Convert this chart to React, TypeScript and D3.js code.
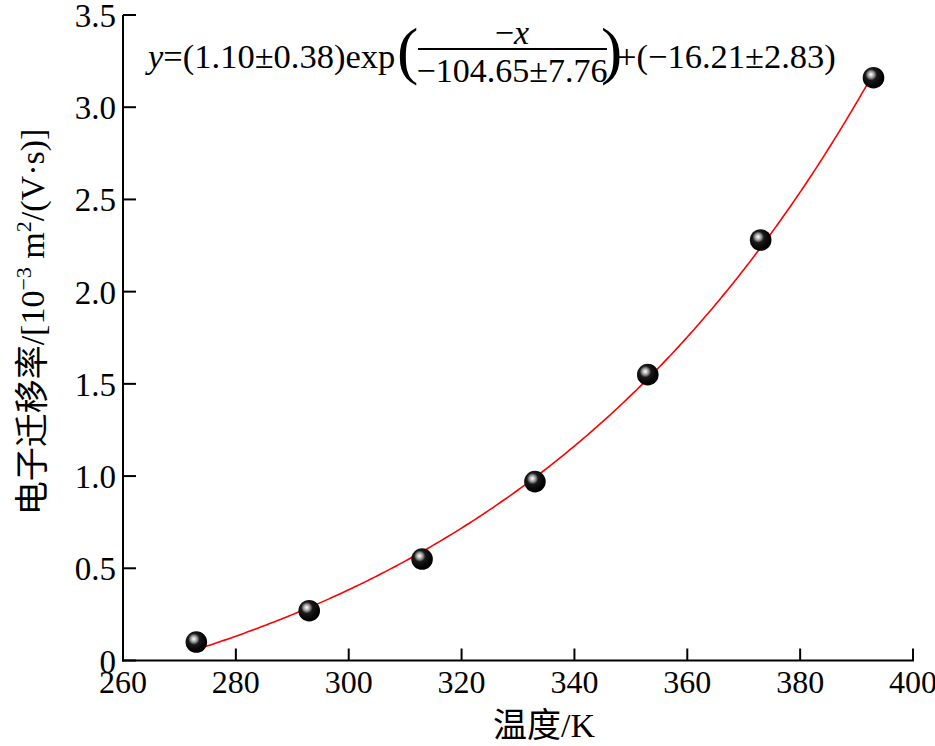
import React from "react";
import * as d3 from "d3";

const temps = [273, 293, 313, 333, 353, 373, 393];
const mobility = [0.1, 0.27, 0.55, 0.97, 1.55, 2.28, 3.16];
const xTicks = [260, 280, 300, 320, 340, 360, 380, 400];
const yTicks = [0, 0.5, 1.0, 1.5, 2.0, 2.5, 3.0, 3.5];
const yTickLabels = ["0", "0.5", "1.0", "1.5", "2.0", "2.5", "3.0", "3.5"];

const W = 935;
const H = 746;
const serif = "Liberation Serif, DejaVu Serif, serif";
const cjk = "Liberation Serif, Noto Sans CJK SC, serif";

// least-squares exponential fit y = A*exp((x-x0)/t) + y0 from the data
function fitExp(xs: number[], ys: number[]) {
  const x0 = xs[0];
  let best = { err: Infinity, A: 0, y0: 0, t: 1 };
  for (let t = 10; t <= 400; t += 0.25) {
    const u = xs.map((x) => Math.exp((x - x0) / t));
    const n = u.length;
    const su = d3.sum(u), sy = d3.sum(ys);
    const suu = d3.sum(u, (v) => v * v);
    const suy = d3.sum(u, (v, i) => v * ys[i]);
    const A = (n * suy - su * sy) / (n * suu - su * su);
    const y0 = (sy - A * su) / n;
    const err = d3.sum(u, (v, i) => (A * v + y0 - ys[i]) ** 2);
    if (err < best.err) best = { err, A, y0, t };
  }
  return (x: number) => best.A * Math.exp((x - x0) / best.t) + best.y0;
}

export default function App() {
  const x = d3.scaleLinear().domain([260, 400]).range([123, 913]);
  const y = d3.scaleLinear().domain([0, 3.5]).range([660.5, 15]);
  const f = fitExp(temps, mobility);
  const xs = d3.range(temps[0], temps[temps.length - 1] + 0.01, 0.5);
  const line = d3
    .line<number>()
    .x((d) => x(d))
    .y((d) => y(f(d)));

  return (
    <svg
      width={W}
      height={H}
      style={{ position: "absolute", left: 0, top: 0, background: "#fff" }}
    >
      <defs>
        <radialGradient id="ball" cx="0.4" cy="0.38" r="0.55" fx="0.38" fy="0.35">
          <stop offset="0" stopColor="#ffffff" />
          <stop offset="0.12" stopColor="#d8d8d8" />
          <stop offset="0.3" stopColor="#8a8a8a" />
          <stop offset="0.48" stopColor="#1a1a1a" />
          <stop offset="1" stopColor="#000000" />
        </radialGradient>
      </defs>

      {/* axes */}
      <line x1={123} x2={123} y1={y(3.5)} y2={y(0) + 1} stroke="#000" strokeWidth={2} />
      <line x1={122} x2={x(400) + 1} y1={y(0)} y2={y(0)} stroke="#000" strokeWidth={2} />
      {xTicks.map((t) => (
        <g key={"xt" + t}>
          <line x1={x(t)} x2={x(t)} y1={y(0)} y2={y(0) - 12} stroke="#000" strokeWidth={2} />
          <text
            x={x(t)}
            y={693}
            textAnchor="middle"
            style={{ fontFamily: serif }}
            fontSize={32}
          >
            {t}
          </text>
        </g>
      ))}
      {yTicks.map((t, i) => (
        <g key={"yt" + t}>
          <line x1={123} x2={136} y1={y(t)} y2={y(t)} stroke="#000" strokeWidth={2} />
          <text
            x={116}
            y={y(t) + 12}
            textAnchor="end"
            style={{ fontFamily: serif }}
            fontSize={33}
          >
            {yTickLabels[i]}
          </text>
        </g>
      ))}

      {/* fit curve */}
      <path d={line(xs) || ""} fill="none" stroke="#ff0000" strokeWidth={1.6} />

      {/* points */}
      {temps.map((t, i) => (
        <circle key={"p" + t} cx={x(t)} cy={y(mobility[i])} r={10.8} fill="url(#ball)" />
      ))}

      {/* equation */}
      <text x={148} y={68} style={{ fontFamily: serif }} fontSize={34.5}>
        <tspan fontStyle="italic">y</tspan>=(1.10±0.38)exp
      </text>
      <text x={397} y={72} style={{ fontFamily: serif }} fontSize={64}>
        (
      </text>
      <text x={512} y={44} textAnchor="middle" style={{ fontFamily: serif }} fontSize={34}>
        −<tspan fontStyle="italic">x</tspan>
      </text>
      <line x1={418} x2={607} y1={49} y2={49} stroke="#000" strokeWidth={2} />
      <text x={512} y={82} textAnchor="middle" style={{ fontFamily: serif }} fontSize={34}>
        −104.65±7.76
      </text>
      <text x={601} y={72} style={{ fontFamily: serif }} fontSize={64}>
        )
      </text>
      <text x={617} y={68} style={{ fontFamily: serif }} fontSize={34.5}>
        +(−16.21±2.83)
      </text>

      {/* axis titles */}
      <text x={544} y={737} textAnchor="middle" style={{ fontFamily: cjk }} fontSize={34}>
        温度/K
      </text>
      <text
        transform="translate(44,322) rotate(-90)"
        textAnchor="middle"
        style={{ fontFamily: cjk }}
        fontSize={34}
      >
        电子迁移率/[10
        <tspan dy={-13} fontSize={22}>−3</tspan>
        <tspan dy={13}> m</tspan>
        <tspan dy={-13} fontSize={22}>2</tspan>
        <tspan dy={13}>/(V·s)]</tspan>
      </text>
    </svg>
  );
}
